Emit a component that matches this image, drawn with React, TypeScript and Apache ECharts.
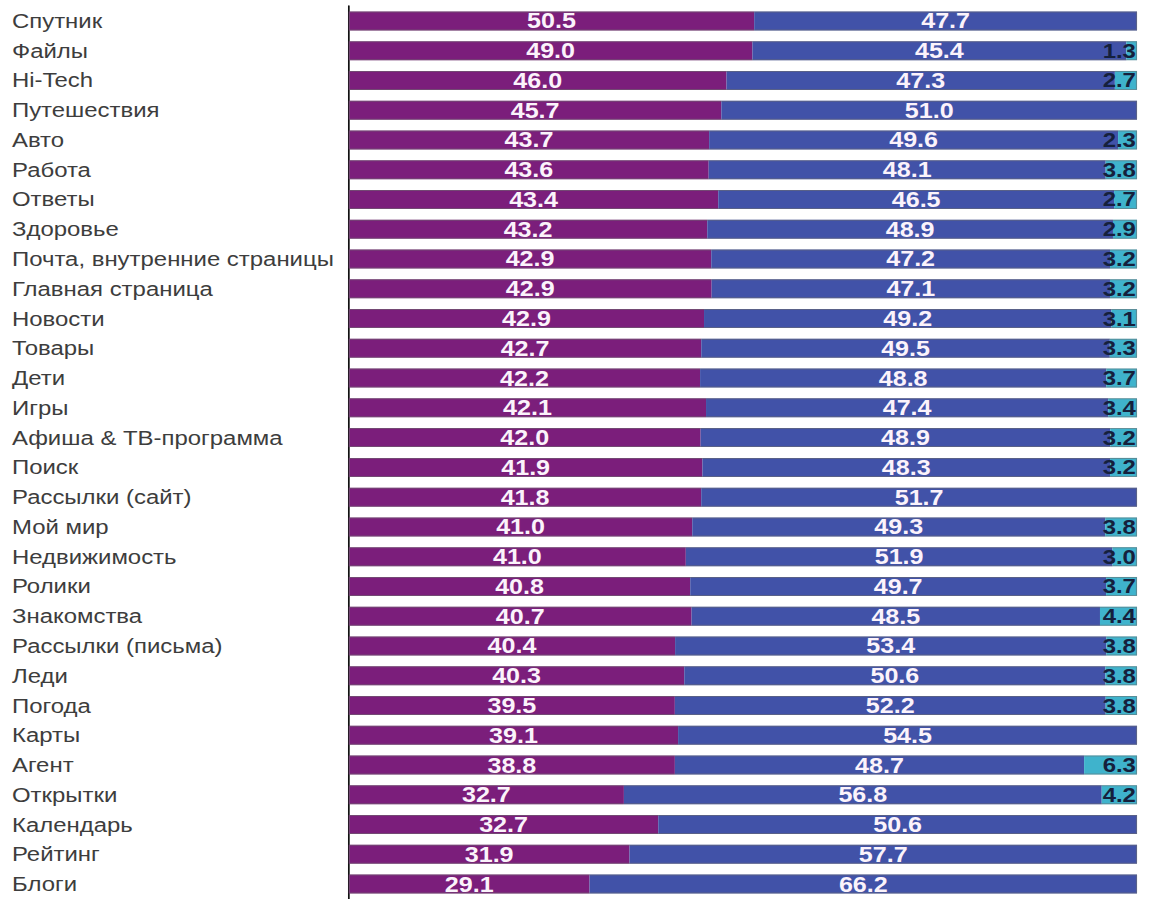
import React, { useEffect, useRef } from "react";
import * as echarts from "echarts";

const categories = [
  "Спутник", "Файлы", "Hi-Tech", "Путешествия", "Авто", "Работа", "Ответы", "Здоровье",
  "Почта, внутренние страницы", "Главная страница", "Новости", "Товары", "Дети", "Игры",
  "Афиша & ТВ-программа", "Поиск", "Рассылки (сайт)", "Мой мир", "Недвижимость", "Ролики",
  "Знакомства", "Рассылки (письма)", "Леди", "Погода", "Карты", "Агент", "Открытки",
  "Календарь", "Рейтинг", "Блоги",
];

const purpleValues = [
  50.5, 49.0, 46.0, 45.7, 43.7, 43.6, 43.4, 43.2, 42.9, 42.9, 42.9, 42.7, 42.2, 42.1, 42.0,
  41.9, 41.8, 41.0, 41.0, 40.8, 40.7, 40.4, 40.3, 39.5, 39.1, 38.8, 32.7, 32.7, 31.9, 29.1,
];

const blueValues = [
  47.7, 45.4, 47.3, 51.0, 49.6, 48.1, 46.5, 48.9, 47.2, 47.1, 49.2, 49.5, 48.8, 47.4, 48.9,
  48.3, 51.7, 49.3, 51.9, 49.7, 48.5, 53.4, 50.6, 52.2, 54.5, 48.7, 56.8, 50.6, 57.7, 66.2,
];

const tealValues: (number | null)[] = [
  null, 1.3, 2.7, null, 2.3, 3.8, 2.7, 2.9, 3.2, 3.2, 3.1, 3.3, 3.7, 3.4, 3.2,
  3.2, null, 3.8, 3.0, 3.7, 4.4, 3.8, 3.8, 3.8, null, 6.3, 4.2, null, null, null,
];

const SCALE_X = 1.14;
const BASE_W = 1007;
const BASE_H = 899;

export default function App() {
  const ref = useRef<HTMLDivElement>(null);

  useEffect(() => {
    document.body.style.margin = "0";
    document.body.style.overflow = "hidden";
    if (!ref.current) return;
    const chart = echarts.init(ref.current, undefined, { renderer: "svg" });

    const totals = categories.map(
      (_, i) => purpleValues[i] + blueValues[i] + (tealValues[i] ?? 0)
    );
    const toShare = (arr: (number | null)[]) =>
      arr.map((v, i) =>
        v == null ? { value: null, raw: null } : { value: (v / totals[i]) * 100, raw: v }
      );

    const labelFormatter = (p: any) =>
      p.data && p.data.raw != null ? Number(p.data.raw).toFixed(1) : "";

    const whiteLabel = {
      show: true,
      position: "inside",
      color: "#fbf3fb",
      fontFamily: "'Liberation Sans', Arial, sans-serif",
      fontWeight: "bold",
      fontSize: 22,
      formatter: labelFormatter,
    };

    const option: any = {
      animation: false,
      backgroundColor: "#ffffff",
      grid: { left: 306, right: 9.6, top: 6, bottom: -4, containLabel: false },
      xAxis: { type: "value", min: 0, max: 100, show: false },
      yAxis: {
        type: "category",
        data: categories,
        inverse: true,
        axisLine: { show: true, lineStyle: { color: "#111111", width: 1.5 } },
        axisTick: { show: false },
        splitLine: { show: false },
        axisLabel: {
          align: "left",
          margin: 295.5,
          color: "#3d3d3d",
          fontSize: 21,
          fontFamily: "'Liberation Sans', Arial, sans-serif",
        },
      },
      series: [
        {
          name: "purple",
          type: "bar",
          stack: "total",
          barWidth: 19,
          barGap: "-100%",
          data: toShare(purpleValues),
          itemStyle: { color: "#7B1E7B" },
          label: whiteLabel,
        },
        {
          name: "blue",
          type: "bar",
          stack: "total",
          barWidth: 19,
          barGap: "-100%",
          data: toShare(blueValues),
          itemStyle: { color: "#4152A8" },
          label: whiteLabel,
        },
        {
          name: "teal",
          type: "bar",
          stack: "total",
          barWidth: 19,
          barGap: "-100%",
          data: toShare(tealValues),
          itemStyle: { color: "#3FB3CC" },
          label: {
            show: true,
            position: "insideRight",
            distance: 1,
            color: "#15203c",
            fontFamily: "'Liberation Sans', Arial, sans-serif",
            fontWeight: "bold",
            fontSize: 21,
            formatter: labelFormatter,
          },
        },
        {
          name: "outline",
          type: "bar",
          barWidth: 19,
          barGap: "-100%",
          silent: true,
          z: 3,
          data: categories.map(() => 100),
          itemStyle: {
            color: "rgba(0,0,0,0)",
            borderColor: "rgba(110,110,110,0.55)",
            borderWidth: 1,
          },
          label: { show: false },
        },
      ],
    };

    chart.setOption(option);
    return () => chart.dispose();
  }, []);

  return (
    <div
      ref={ref}
      style={{
        width: BASE_W,
        height: BASE_H,
        transform: `scaleX(${SCALE_X})`,
        transformOrigin: "0 0",
      }}
    />
  );
}
